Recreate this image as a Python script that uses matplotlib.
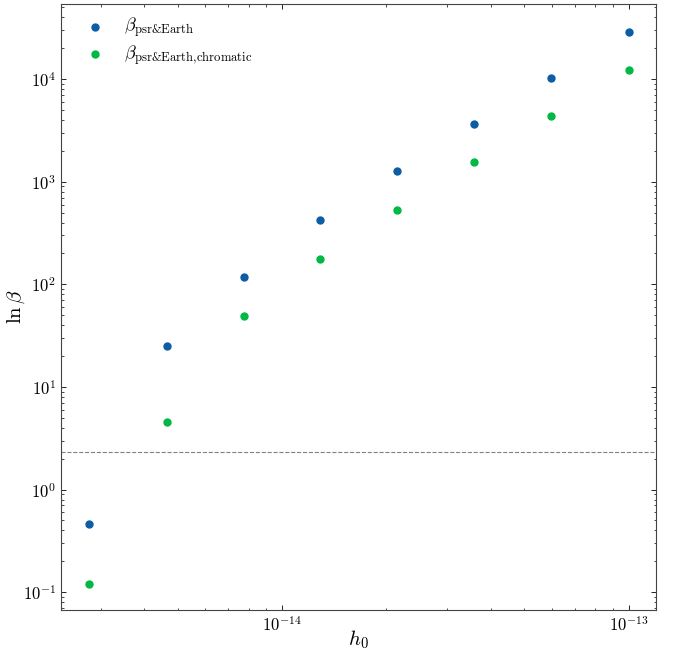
import numpy as np
import matplotlib
matplotlib.use('Agg')
from matplotlib import pyplot as plt

h0 = [2.78e-15, 4.64e-15, 7.74e-15, 1.29e-14, 2.15e-14, 3.59e-14, 5.99e-14, 1.0e-13]
lnb_earth = [0.46, 24.8, 119, 428, 1285, 3690, 10370, 29100]
lnb_chrom = [0.121, 4.6, 49.6, 175, 536, 1574, 4420, 12400]
threshold = 2.3

plt.rcParams['mathtext.fontset'] = 'cm'
plt.rcParams['font.family'] = 'serif'
plt.rcParams['font.serif'] = ['cmr10', 'DejaVu Serif']
plt.rcParams['axes.formatter.use_mathtext'] = True

fig = plt.figure(figsize=(6.76, 6.53), dpi=100)
ax = fig.add_axes([0.0902, 0.0658, 0.8802, 0.9281])

ax.scatter(h0, lnb_earth, s=25, color='#0C5DA5', zorder=3,
           label=r'$\beta_{\mathrm{psr&Earth}}$')
ax.scatter(h0, lnb_chrom, s=25, color='#00B945', zorder=3,
           label=r'$\beta_{\mathrm{psr&Earth{,}chromatic}}$')
ax.axhline(threshold, color='gray', ls='--', lw=0.8)

ax.set_xscale('log')
ax.set_yscale('log')
ax.set_xlim(2.3e-15, 1.2e-13)
ax.set_ylim(0.067, 5.4e4)
ax.set_xlabel(r'$h_0$', fontsize=15)
ax.set_ylabel(r'$\ln\beta$', fontsize=15)
ax.xaxis.set_label_coords(0.5, -0.03)
ax.yaxis.set_label_coords(-0.057, 0.5)

ax.tick_params(which='both', direction='in', top=True, right=True, labelsize=12)
ax.tick_params(which='major', length=3.5, width=0.6)
ax.tick_params(which='minor', length=1.8, width=0.5)
for s in ax.spines.values():
    s.set_linewidth(0.8)
    s.set_color('#444444')

ax.legend(loc='upper left', bbox_to_anchor=(0.0, 1.008), frameon=False,
          fontsize=13, handletextpad=0.6, borderaxespad=0.5, labelspacing=0.25)

fig.savefig('out.png', dpi=100)
